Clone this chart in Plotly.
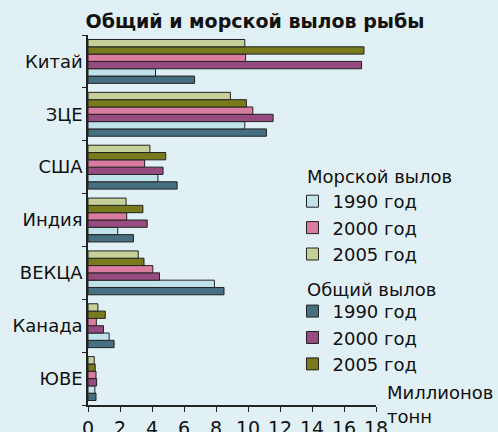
import plotly.graph_objects as go

categories = ["ЮВЕ", "Канада", "ВЕКЦА", "Индия", "США", "ЗЦЕ", "Китай"]

total_1990 = [0.5, 1.63, 8.5, 2.84, 5.57, 11.15, 6.66]
marine_1990 = [0.43, 1.32, 7.9, 1.86, 4.37, 9.8, 4.22]
total_2000 = [0.54, 0.97, 4.47, 3.7, 4.69, 11.57, 17.1]
marine_2000 = [0.5, 0.52, 4.05, 2.42, 3.54, 10.3, 9.85]
total_2005 = [0.45, 1.08, 3.5, 3.43, 4.86, 9.9, 17.25]
marine_2005 = [0.39, 0.62, 3.14, 2.38, 3.87, 8.9, 9.8]

x_ticks = [0, 2, 4, 6, 8, 10, 12, 14, 16, 18]

title_text = "Общий и морской вылов рыбы"
marine_title = "Морской вылов"
total_title = "Общий вылов"
unit_line1 = "Миллионов"
unit_line2 = "тонн"

FONT = "DejaVu Sans, Verdana, sans-serif"
BG = "#e1f0f4"
LINE = "#222222"
TXT = "#111111"

series = [
    ("1990 год", total_1990, "#466f82", "legend2"),
    ("1990 год", marine_1990, "#c0e2ea", "legend"),
    ("2000 год", total_2000, "#964c80", "legend2"),
    ("2000 год", marine_2000, "#d97c9f", "legend"),
    ("2005 год", total_2005, "#787a1c", "legend2"),
    ("2005 год", marine_2005, "#c5d098", "legend"),
]

ranks = {"1990 год": 1, "2000 год": 2, "2005 год": 3}

fig = go.Figure()
for name, vals, color, leg in series:
    fig.add_trace(go.Bar(
        y=categories, x=vals, orientation="h", name=name,
        marker=dict(color=color, line=dict(color=LINE, width=1)),
        legend=leg, legendrank=ranks[name],
    ))

def note(text, x, y, anchor="middle"):
    return dict(text=text, xref="paper", yref="paper", x=x, y=y,
                xanchor="left", yanchor=anchor, align="left",
                showarrow=False, font=dict(size=18, color=TXT))

fig.update_layout(
    width=498, height=432,
    paper_bgcolor=BG, plot_bgcolor=BG,
    margin=dict(l=88, r=122, t=35, b=27),
    barmode="group", bargap=0.17, bargroupgap=0,
    font=dict(family=FONT, size=18, color=TXT),
    title=dict(text="<b>" + title_text + "</b>", x=0.512, xanchor="center",
               y=0.966, yanchor="top", font=dict(size=19, color=TXT)),
    xaxis=dict(range=[0, 18], tickvals=x_ticks, showgrid=False, zeroline=False,
               showline=True, linecolor=LINE, linewidth=1.5, ticks="outside",
               ticklen=5, tickcolor=LINE, tickfont=dict(size=19),
               automargin=False),
    yaxis=dict(categoryorder="array", categoryarray=categories, showgrid=False,
               showline=True, linecolor=LINE, linewidth=1.5, ticks="outside",
               tickson="boundaries", ticklen=4, tickcolor=LINE,
               tickfont=dict(size=18), automargin=False),
    legend=dict(x=0.71, xanchor="left", y=0.60, yanchor="top",
                bgcolor="rgba(0,0,0,0)", font=dict(size=18),
                traceorder="normal", itemclick=False),
    legend2=dict(x=0.71, xanchor="left", y=0.303, yanchor="top",
                 bgcolor="rgba(0,0,0,0)", font=dict(size=18),
                 traceorder="normal", itemclick=False),
    showlegend=True,
    annotations=[
        note(marine_title, 0.755, 0.617),
        note(total_title, 0.755, 0.313),
        note(unit_line1, 1.03, 0.035),
        note(unit_line2, 1.03, -0.03),
    ],
)

fig.write_html("out.html",
               config={"displayModeBar": False},
               post_script="document.body.style.margin='0';"
                           "document.body.style.background='%s';" % BG)
